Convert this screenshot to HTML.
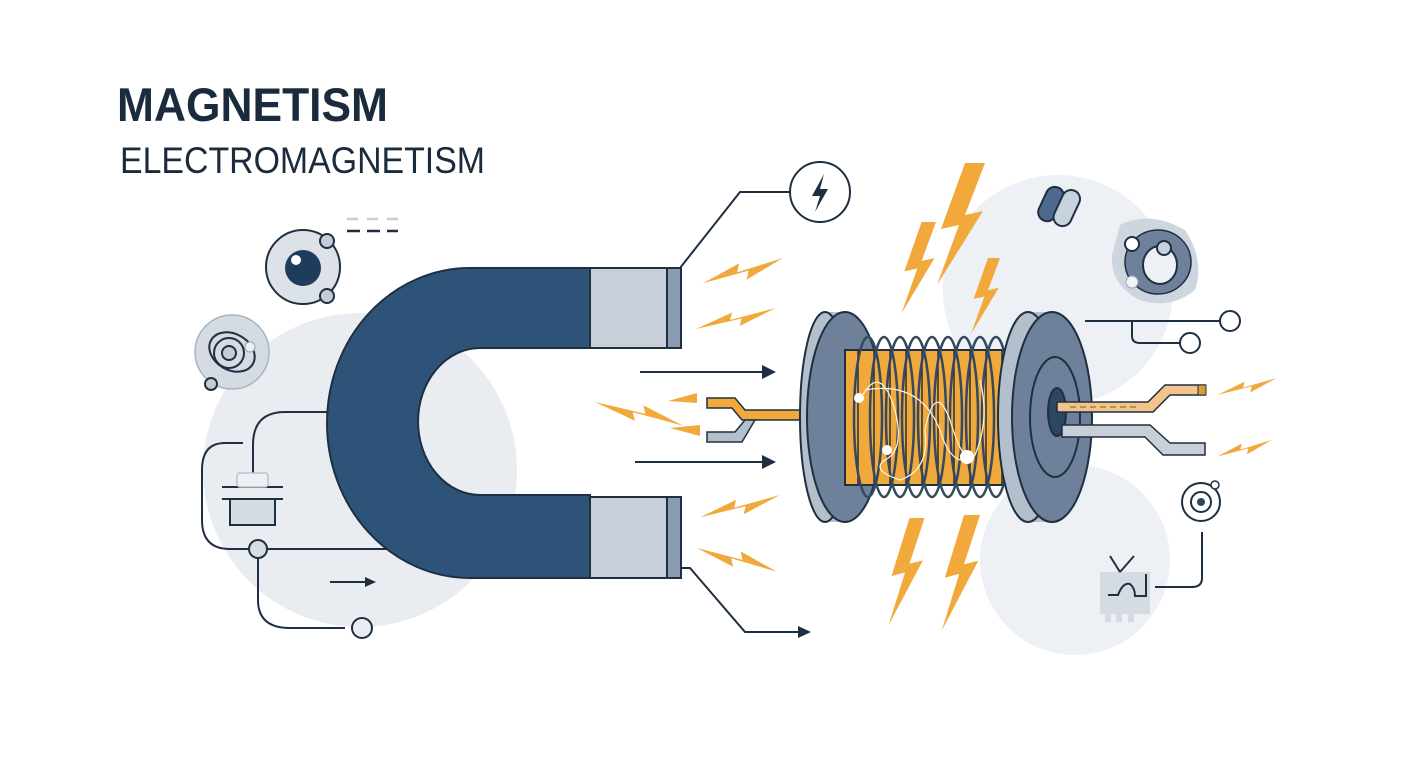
<!DOCTYPE html>
<html><head><meta charset="utf-8"><style>html,body{margin:0;padding:0;background:#fff}svg{display:block}</style></head>
<body>
<svg width="1408" height="768" viewBox="0 0 1408 768" xmlns="http://www.w3.org/2000/svg">
<defs>
<path id="hb" d="M0,28 L38,6 L36,16 L84,0 L46,24 L48,14 Z"/>
<path id="vb" d="M30,0 L6,66 L24,62 L2,122 L48,48 L30,52 L50,0 Z"/>
</defs>
<rect width="1408" height="768" fill="#fff"/>
<circle cx="360" cy="470" r="157" fill="#e9ecf1"/>
<circle cx="1058" cy="290" r="115" fill="#edf0f4"/>
<circle cx="1075" cy="560" r="95" fill="#edf0f4"/>

<text x="117" y="121" font-family="Liberation Sans, sans-serif" font-weight="bold" font-size="47" fill="#1b2b3e" textLength="271" lengthAdjust="spacingAndGlyphs">MAGNETISM</text>
<text x="120" y="173" font-family="Liberation Sans, sans-serif" font-size="37" fill="#1b2b3e" textLength="365" lengthAdjust="spacingAndGlyphs">ELECTROMAGNETISM</text>

<g fill="none" stroke="#1f2f42" stroke-width="2">
<path d="M330,412 L285,412 Q253,412 253,445 L253,475"/>
<path d="M243,443 L225,443 Q202,443 202,470 L202,520 Q202,549 230,549 L400,549"/>
<path d="M258,549 L258,600 Q258,628 290,628 L345,628"/>
<line x1="222" y1="487" x2="283" y2="487"/>
<line x1="222" y1="499" x2="283" y2="499"/>
<path d="M680,268 L740,192 L790,192"/>
<path d="M665,568 L690,568 L745,632 L800,632"/>
<line x1="640" y1="372" x2="762" y2="372"/>
<line x1="635" y1="462" x2="762" y2="462"/>
<line x1="330" y1="582" x2="365" y2="582"/>
<path d="M1085,321 L1220,321"/>
<path d="M1132,321 L1132,336 Q1132,343 1140,343 L1180,343"/>
<path d="M1202,532 L1202,578 Q1202,587 1192,587 L1155,587"/>
</g>
<g fill="#1f2f42">
<polygon points="762,365 776,372 762,379"/>
<polygon points="762,455 776,462 762,469"/>
<polygon points="798,626 811,632 798,638"/>
<polygon points="365,577 376,582 365,587"/>
</g>
<rect x="230" y="499" width="45" height="26" fill="#d5dbe3" stroke="#1f2f42" stroke-width="2"/>
<rect x="237" y="473" width="31" height="14" rx="3" fill="#eef1f4" stroke="#b8c1cc" stroke-width="1.5"/>
<circle cx="258" cy="549" r="9" fill="#d8dde4" stroke="#1f2f42" stroke-width="2"/>
<circle cx="362" cy="628" r="10" fill="#e8ebef" stroke="#1f2f42" stroke-width="2"/>

<circle cx="303" cy="267" r="37" fill="#dde2e8" stroke="#1f2f42" stroke-width="2"/>
<circle cx="303" cy="268" r="18" fill="#1f3c5c"/>
<circle cx="296" cy="260" r="5" fill="#fff"/>
<circle cx="327" cy="241" r="7" fill="#c5ccd5" stroke="#1f2f42" stroke-width="2"/>
<circle cx="327" cy="296" r="7" fill="#c5ccd5" stroke="#1f2f42" stroke-width="2"/>
<g stroke-width="2.5"><line x1="347" y1="219" x2="358" y2="219" stroke="#c8ced6"/><line x1="367" y1="219" x2="378" y2="219" stroke="#c8ced6"/><line x1="387" y1="219" x2="398" y2="219" stroke="#c8ced6"/>
<line x1="347" y1="231" x2="360" y2="231" stroke="#1f2f42"/><line x1="367" y1="231" x2="380" y2="231" stroke="#1f2f42"/><line x1="387" y1="231" x2="398" y2="231" stroke="#1f2f42"/></g>
<circle cx="232" cy="352" r="37" fill="#d5dbe2" stroke="#aab4c0" stroke-width="1.5"/>
<ellipse cx="232" cy="352" rx="24" ry="18" fill="none" stroke="#1f2f42" stroke-width="2" transform="rotate(30 232 352)"/>
<circle cx="229" cy="353" r="15" fill="none" stroke="#1f2f42" stroke-width="2"/>
<circle cx="229" cy="353" r="7" fill="#c5ccd5" stroke="#1f2f42" stroke-width="2"/>
<circle cx="250" cy="347" r="5" fill="#eef1f4" stroke="#9aa5b2"/>
<circle cx="211" cy="384" r="6" fill="#c5ccd5" stroke="#1f2f42" stroke-width="2"/>

<path d="M470,268 L590,268 L590,348 L480,348 A62,73.5 0 0 0 480,495 L590,495 L590,578 L470,578 A143,155 0 0 1 470,268 Z" fill="#2d5478" stroke="#1f2f42" stroke-width="2"/>
<rect x="590" y="268" width="77" height="80" fill="#c8cfd8" stroke="#1f2f42" stroke-width="2"/>
<rect x="667" y="268" width="14" height="80" fill="#8a9ab0" stroke="#1f2f42" stroke-width="2"/>
<rect x="590" y="497" width="77" height="81" fill="#c8cfd8" stroke="#1f2f42" stroke-width="2"/>
<rect x="667" y="497" width="14" height="81" fill="#8a9ab0" stroke="#1f2f42" stroke-width="2"/>

<circle cx="820" cy="192" r="30" fill="#fff" stroke="#1f2f42" stroke-width="2"/>
<path d="M824,174 L812,196 L820,196 L815,212 L828,189 L820,189 Z" fill="#1f2f42"/>

<g fill="#f2a93b">
<use href="#hb" transform="translate(703,258) scale(0.95,0.9)"/>
<use href="#hb" transform="translate(696,308) scale(0.95,0.75)"/>
<use href="#hb" transform="translate(595,402) scale(1.05,-0.85) translate(0,-28)"/>
<polygon points="668,401 697,393 697,403"/>
<polygon points="670,428 700,425 700,436"/>
<use href="#hb" transform="translate(700,495) scale(0.95,0.8)"/>
<use href="#hb" transform="translate(697,548) scale(0.95,-0.85) translate(0,-28)"/>
<use href="#hb" transform="translate(1218,378) scale(0.7,0.6)"/>
<use href="#hb" transform="translate(1217,440) scale(0.65,0.6)"/>
<use href="#vb" transform="translate(935,163)"/>
<use href="#vb" transform="translate(900,222) scale(0.72,0.75)"/>
<use href="#vb" transform="translate(970,258) scale(0.6,0.62)"/>
<use href="#vb" transform="translate(887,518) scale(0.75,0.88)"/>
<use href="#vb" transform="translate(940,515) scale(0.8,0.95)"/>
</g>

<path d="M707,398 L735,398 L745,410 L802,410 L802,420 L742,420 L732,408 L707,408 Z" fill="#f2a93b" stroke="#1f2f42" stroke-width="1.5"/>
<path d="M707,432 L735,432 L745,420 L755,420 L742,442 L707,442 Z" fill="#b4bfcc" stroke="#1f2f42" stroke-width="1.5"/>

<g stroke="#1f2f42" stroke-width="2">
<path d="M825,312 L848,312 L848,522 L825,522 Z" fill="#b4bfcc" stroke="none"/>
<ellipse cx="825" cy="417" rx="25" ry="105" fill="#b4bfcc"/>
<ellipse cx="845" cy="417" rx="38" ry="105" fill="#6f819a"/>
<rect x="845" y="350" width="172" height="135" fill="#f2a93b"/>
<g stroke="#1f2f42" stroke-width="1.5" fill="none">
<line x1="858" y1="350" x2="858" y2="485"/><line x1="874" y1="350" x2="874" y2="485"/><line x1="890" y1="350" x2="890" y2="485"/><line x1="906" y1="350" x2="906" y2="485"/><line x1="922" y1="350" x2="922" y2="485"/><line x1="938" y1="350" x2="938" y2="485"/><line x1="954" y1="350" x2="954" y2="485"/><line x1="970" y1="350" x2="970" y2="485"/><line x1="986" y1="350" x2="986" y2="485"/><line x1="1002" y1="350" x2="1002" y2="485"/>
</g>
<g fill="none" stroke="#34495f" stroke-width="2.5">
<ellipse cx="868" cy="417" rx="14" ry="80"/><ellipse cx="884" cy="417" rx="14" ry="80"/><ellipse cx="900" cy="417" rx="14" ry="80"/><ellipse cx="916" cy="417" rx="14" ry="80"/><ellipse cx="932" cy="417" rx="14" ry="80"/><ellipse cx="948" cy="417" rx="14" ry="80"/><ellipse cx="964" cy="417" rx="14" ry="80"/><ellipse cx="980" cy="417" rx="14" ry="80"/><ellipse cx="996" cy="417" rx="14" ry="80"/>
</g>
<g fill="none" stroke="#fff6e0" stroke-width="1.2">
<path d="M860,400 Q880,360 895,410 Q905,450 885,460 Q870,470 900,480 Q930,470 925,430 Q935,380 950,420 Q965,470 975,455 Q990,420 980,380"/>
<path d="M865,390 Q920,380 940,430 Q950,465 970,460"/>
</g>
<g fill="#fff" stroke="none"><circle cx="859" cy="398" r="5"/><circle cx="887" cy="450" r="5"/><circle cx="967" cy="457" r="7"/></g>
<path d="M1028,312 L1052,312 L1052,522 L1028,522 Z" fill="#b4bfcc" stroke="none"/>
<ellipse cx="1028" cy="417" rx="30" ry="105" fill="#b4bfcc"/>
<ellipse cx="1052" cy="417" rx="40" ry="105" fill="#6f819a"/>
<ellipse cx="1055" cy="417" rx="25" ry="60" fill="#6f819a"/>
<ellipse cx="1057" cy="412" rx="9" ry="24" fill="#2d4763"/>
</g>
<path d="M1057,402 L1148,402 L1165,385 L1205,385 L1205,395 L1170,395 L1153,412 L1057,412 Z" fill="#f2c48a" stroke="#1f2f42" stroke-width="1.5"/>
<rect x="1198" y="385" width="8" height="10" fill="#e09a35" stroke="#1f2f42"/>
<path d="M1062,425 L1150,425 L1170,443 L1205,443 L1205,455 L1163,455 L1145,437 L1062,437 Z" fill="#c8cfd8" stroke="#1f2f42" stroke-width="1.5"/>
<line x1="1070" y1="407" x2="1140" y2="407" stroke="#7a5a2a" stroke-width="1" stroke-dasharray="6 4"/>

<circle cx="1230" cy="321" r="10" fill="#fff" stroke="#1f2f42" stroke-width="2"/>
<circle cx="1190" cy="343" r="10" fill="#fff" stroke="#1f2f42" stroke-width="2"/>
<g transform="rotate(25 1060 206)">
<rect x="1042" y="190" width="18" height="36" rx="9" fill="#4d6a8c" stroke="#1f2f42" stroke-width="2"/>
<rect x="1058" y="186" width="18" height="38" rx="9" fill="#c8d2de" stroke="#1f2f42" stroke-width="2"/>
</g>
<path d="M1120,225 Q1150,210 1185,230 Q1205,260 1195,290 Q1170,310 1140,300 Q1110,285 1112,255 Z" fill="#cdd5df"/>
<ellipse cx="1158" cy="262" rx="33" ry="32" fill="#6f819a" stroke="#1f2f42" stroke-width="1.5"/>
<ellipse cx="1160" cy="265" rx="17" ry="19" fill="#edf0f4" stroke="#1f2f42" stroke-width="2"/>
<circle cx="1132" cy="244" r="7" fill="#fff" stroke="#1f2f42" stroke-width="2"/>
<circle cx="1164" cy="248" r="7" fill="#c8d2de" stroke="#1f2f42" stroke-width="2"/>
<circle cx="1132" cy="282" r="6" fill="#f2f4f7" stroke="#9aa5b2"/>
<circle cx="1201" cy="502" r="19" fill="#fff" stroke="#1f2f42" stroke-width="2"/>
<circle cx="1201" cy="502" r="10" fill="none" stroke="#1f2f42" stroke-width="2"/>
<circle cx="1201" cy="502" r="4" fill="#2d4763"/>
<circle cx="1215" cy="485" r="4" fill="#fff" stroke="#1f2f42" stroke-width="1.5"/>
<rect x="1100" y="572" width="50" height="42" fill="#d5dbe3"/>
<rect x="1105" y="614" width="6" height="8" fill="#d5dbe3"/><rect x="1116" y="614" width="6" height="8" fill="#d5dbe3"/><rect x="1128" y="614" width="6" height="8" fill="#d5dbe3"/>
<path d="M1108,595 L1118,595 Q1123,582 1130,584 Q1135,588 1135,596 L1146,596 L1146,574" fill="none" stroke="#1f2f42" stroke-width="2"/>
<path d="M1120,572 L1110,556 M1120,572 L1134,556" fill="none" stroke="#1f2f42" stroke-width="2"/>
</svg>
</body></html>
